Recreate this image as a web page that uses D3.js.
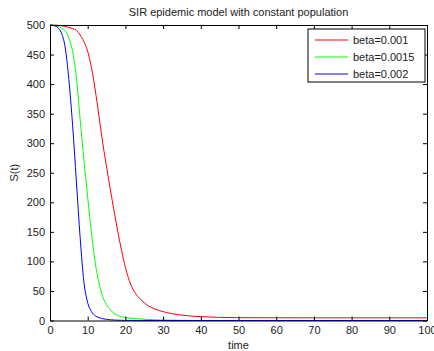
<!DOCTYPE html>
<html>
<head>
<meta charset="utf-8">
<script src="https://cdn.jsdelivr.net/npm/d3@7"></script>
<style>
  body { margin: 0; background: #fff; }
  svg { font-family: "Liberation Sans", Arial, sans-serif; }
  .axis path, .axis line { stroke: #000; }
  .axis text { font-size: 11px; fill: #222; }
</style>
</head>
<body>
<div id="chart"></div>
<script>
// data
var time = [0, 1, 2, 3, 4, 5, 6, 7, 8, 9, 10, 11, 12, 13, 14, 15, 16, 17, 18, 19, 20,
            21, 22, 23, 24, 26, 28, 30, 35, 40, 50, 60, 70, 80, 90, 100];
var sBeta001 = [500, 499.8, 499.5, 498.8, 497.5, 496, 494, 491, 483, 472, 455, 428, 390, 345, 300, 260,
                222, 185, 150, 118, 90, 68, 53, 43, 36, 25, 19, 15, 9, 6.5, 4.8, 4.6, 4.5, 4.5, 4.5, 4.5];
var sBeta0015 = [500, 499.5, 498, 495, 490, 478, 455, 410, 340, 272, 208, 148, 98, 63, 40, 27,
                 18, 12, 8.5, 6, 5, 4.2, 3.5, 3, 2.5, 1.8, 1.2, 0.8, 0.3, 0.1, 0, 0, 0, 0, 0, 0];
var sBeta002 = [500, 499, 496, 487, 463, 408, 330, 235, 140, 65, 30, 15, 8, 5, 3, 2,
                1.2, 0.8, 0.5, 0.3, 0.2, 0.1, 0.1, 0, 0, 0, 0, 0, 0, 0, 0, 0, 0, 0, 0, 0];

var series = [
  {name: "beta=0.001", values: sBeta001, color: "#ff0000"},
  {name: "beta=0.0015", values: sBeta0015, color: "#00ff00"},
  {name: "beta=0.002", values: sBeta002, color: "#0000ff"}
];

var xTicks = [0, 10, 20, 30, 40, 50, 60, 70, 80, 90, 100];
var yTicks = [0, 50, 100, 150, 200, 250, 300, 350, 400, 450, 500];

// set the dimensions and margins of the graph
var margin = {top: 25, right: 7, bottom: 30.5, left: 50},
    width = 434 - margin.left - margin.right,
    height = 351 - margin.top - margin.bottom;

var x = d3.scaleLinear().domain([0, 100]).range([0, width]);
var y = d3.scaleLinear().domain([0, 500]).range([height, 0]);

var svg = d3.select("#chart").append("svg")
    .attr("width", 434)
    .attr("height", 351);

var chart = svg.append("g")
    .attr("transform", "translate(" + margin.left + "," + margin.top + ")");

// the lines
var line = d3.line()
    .x(function(d, i) { return x(time[i]); })
    .y(function(d) { return y(d); })
    .curve(d3.curveMonotoneX);

chart.selectAll(".line")
    .data(series)
  .enter().append("path")
    .attr("class", "line")
    .attr("d", function(d) { return line(d.values); })
    .style("stroke", function(d) { return d.color; })
    .style("stroke-width", 1)
    .style("fill", "none");

// axes, matlab style: ticks pointing inward on all four sides
chart.append("g")
    .attr("class", "axis")
    .attr("transform", "translate(0," + height + ")")
    .call(d3.axisBottom(x).tickValues(xTicks).tickSizeInner(-4).tickSizeOuter(0).tickPadding(6));

chart.append("g")
    .attr("class", "axis")
    .call(d3.axisLeft(y).tickValues(yTicks).tickSizeInner(-4).tickSizeOuter(0).tickPadding(5));

chart.append("g")
    .attr("class", "axis")
    .call(d3.axisTop(x).tickValues(xTicks).tickSizeInner(-4).tickSizeOuter(0).tickFormat(""));

chart.append("g")
    .attr("class", "axis")
    .attr("transform", "translate(" + width + ",0)")
    .call(d3.axisRight(y).tickValues(yTicks).tickSizeInner(-4).tickSizeOuter(0).tickFormat(""));

// title and labels
svg.append("text")
    .attr("x", margin.left + width / 2)
    .attr("y", 16)
    .attr("text-anchor", "middle")
    .style("font-size", "11px")
    .style("fill", "#222")
    .text("SIR epidemic model with constant population");

svg.append("text")
    .attr("x", margin.left + width / 2)
    .attr("y", 349)
    .attr("text-anchor", "middle")
    .style("font-size", "11px")
    .style("fill", "#222")
    .text("time");

svg.append("text")
    .attr("transform", "translate(18," + (margin.top + height / 2) + ") rotate(-90)")
    .attr("text-anchor", "middle")
    .style("font-size", "11px")
    .style("fill", "#222")
    .text("S(t)");

// legend
var legend = chart.append("g")
    .attr("transform", "translate(258,4)");

legend.append("rect")
    .attr("width", 117)
    .attr("height", 53)
    .style("fill", "#fff")
    .style("stroke", "#000");

var item = legend.selectAll(".item")
    .data(series)
  .enter().append("g")
    .attr("transform", function(d, i) { return "translate(0," + (11 + i * 17) + ")"; });

item.append("line")
    .attr("x1", 7).attr("x2", 40)
    .style("stroke", function(d) { return d.color; });

item.append("text")
    .attr("x", 45)
    .attr("dy", "0.35em")
    .style("font-size", "11px")
    .style("fill", "#222")
    .text(function(d) { return d.name; });
</script>
</body>
</html>
